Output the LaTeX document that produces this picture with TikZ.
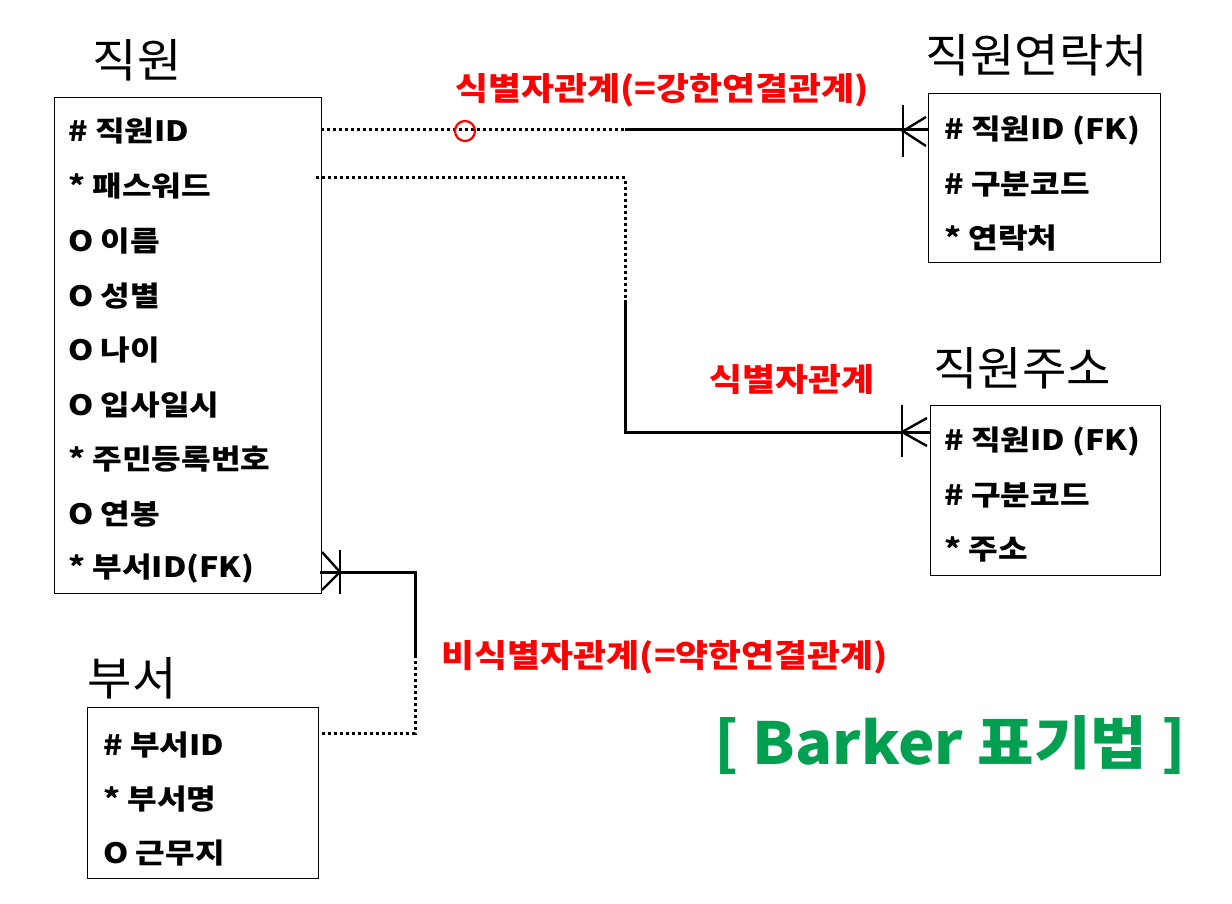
\documentclass[tikz,border=0pt]{standalone}
\usepackage{fontspec}
\setmainfont{Noto Sans CJK KR}
\newfontfamily\krrow[FakeStretch=1.15]{Noto Sans CJK KR}
\newfontfamily\krrel[FakeStretch=1.12]{Noto Sans CJK KR}
\newfontfamily\krttl[FakeStretch=1.05]{Noto Sans CJK KR}
\newfontfamily\krbk[FakeStretch=1.06]{Noto Sans CJK KR}
\begin{document}
\begin{tikzpicture}[x=1pt,y=-1pt,
  box/.style={draw=black,line width=1.4pt,minimum width=#1,inner sep=0pt,anchor=north west},
  row/.style={anchor=west,font=\krrow\fontsize{28}{28}\selectfont\bfseries,inner sep=0pt},
  ttl/.style={font=\krttl\fontsize{46}{46}\selectfont,inner sep=0pt},
  rel/.style={font=\krrel\fontsize{32}{32}\selectfont\bfseries,text=red,inner sep=0pt},
  solidc/.style={line width=3pt},
  dotc/.style={line width=3pt,dash pattern=on 3pt off 3pt},
  foot/.style={line width=2.4pt}]
\useasboundingbox (0,0) rectangle (1232,904);
\fill[white] (0,0) rectangle (1232,904);
% boxes
\node[box=267pt,minimum height=496pt] (emp) at (54,97) {};
\node[box=232pt,minimum height=169pt] (cont) at (928,93) {};
\node[box=230pt,minimum height=170pt] (addr) at (930,405) {};
\node[box=231pt,minimum height=171pt] (dept) at (87,707) {};
% titles
\node[ttl] (tEmp) at (137,60) {직원};
\node[ttl] (tCont) at (1037,55) {직원연락처};
\node[ttl] (tAddr) at (1022,368) {직원주소};
\node[ttl] (tDept) at (132,678) {부서};
% rows of 직원
\node[row] (e1) at (68,131) {\# 직원ID};
\node[row] (e2) at (68,186) {* 패스워드};
\node[row] (e3) at (68,241) {O 이름};
\node[row] (e4) at (68,296) {O 성별};
\node[row] (e5) at (68,350) {O 나이};
\node[row] (e6) at (68,405) {O 입사일시};
\node[row] (e7) at (68,459) {* 주민등록번호};
\node[row] (e8) at (68,514) {O 연봉};
\node[row] (e9) at (68,569) {* 부서ID(FK)};
% rows of 직원연락처
\node[row] (c1) at (944,131) {\# 직원ID (FK)};
\node[row] (c2) at (944,184) {\# 구분코드};
\node[row] (c3) at (944,238) {* 연락처};
% rows of 직원주소
\node[row] (a1) at (944,442) {\# 직원ID (FK)};
\node[row] (a2) at (944,495) {\# 구분코드};
\node[row] (a3) at (944,549) {* 주소};
% rows of 부서
\node[row] (d1) at (103,745) {\# 부서ID};
\node[row] (d2) at (103,799) {* 부서명};
\node[row] (d3) at (103,853) {O 근무지};
% relation labels
\node[rel] (r1) at (662,90) {식별자관계(=강한연결관계)};
\node[rel] (r2) at (792,380) {식별자관계};
\node[rel] (r3) at (665,657) {비식별자관계(=약한연결관계)};
\node[font=\krbk\fontsize{58}{58}\selectfont\bfseries,text={rgb,255:red,0;green,160;blue,80},inner sep=0pt] (bk) at (950,745) {[ Barker 표기법 ]};
% connector points
\coordinate (p1s) at (321,130);
\coordinate (p1m) at (625,130);
\coordinate (p1e) at (928,130);
\coordinate (p2s) at (316,178);
\coordinate (p2c) at (625,178);
\coordinate (p2m) at (625,300);
\coordinate (p2k) at (625,432);
\coordinate (p2e) at (930,432);
\coordinate (p3s) at (320,572);
\coordinate (p3c) at (415,572);
\coordinate (p3m) at (415,655);
\coordinate (p3k) at (415,733);
\coordinate (p3e) at (318,733);
% connector 1 (직원 - 직원연락처)
\draw[dotc] (p1s) -- (p1m);
\draw[solidc] (p1m) -- (p1e);
\draw[foot] (903,105) -- (903,157);
\draw[foot] (926,117) -- (903,131) -- (926,146);
\draw[red,line width=2.2pt] (465,131) circle (10);
% connector 2 (직원 - 직원주소)
\draw[dotc] (p2s) -- (p2c) -- (p2m);
\draw[solidc] (p2m) -- (p2k) -- (p2e);
\draw[foot] (902,405) -- (902,457);
\draw[foot] (927,418) -- (902,432) -- (927,446);
% connector 3 (부서 - 직원)
\draw[solidc] (p3s) -- (p3c) -- (p3m);
\draw[dotc] (p3m) -- (p3k) -- (p3e);
\draw[foot] (340,550) -- (340,594);
\draw[foot] (322,552) -- (340,572) -- (322,590);
\end{tikzpicture}
\end{document}
